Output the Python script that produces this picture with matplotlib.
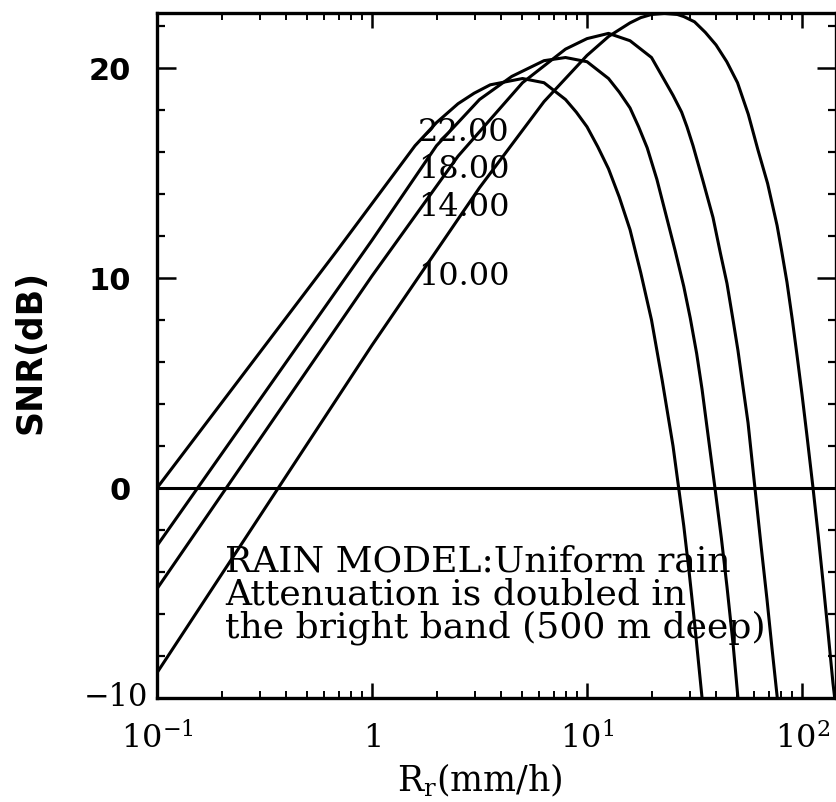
import numpy as np
import matplotlib
matplotlib.use("Agg")
import matplotlib.pyplot as plt
from matplotlib.ticker import FixedLocator, NullFormatter

plt.rcParams["mathtext.fontset"] = "dejavuserif"

# ---------------- data ----------------
curve_labels = ["22.00", "18.00", "14.00", "10.00"]

rain_22 = [0.1, 0.687, 1.585, 1.995, 2.512, 2.985, 3.548, 5.012, 6.310, 7.943, 8.913,
           10.0, 11.22, 12.59, 14.13, 15.85, 17.78, 19.95, 22.39, 25.12, 28.18,
           29.85, 31.62, 34.28]
snr_22 = [0.0, 11.3, 16.3, 17.4, 18.3, 18.8, 19.2, 19.5, 19.3, 18.5, 17.9,
          17.2, 16.25, 15.2, 13.85, 12.3, 10.25, 8.0, 5.1, 2.0, -1.8,
          -4.0, -6.4, -10.0]

rain_18 = [0.1, 1.0, 1.995, 3.162, 4.467, 6.310, 7.943, 10.0, 12.59, 14.13,
           15.85, 17.38, 19.05, 21.13, 23.44, 25.70, 28.18, 30.20, 32.36, 34.28,
           36.14, 39.36, 42.17, 44.77, 47.86, 50.35]
snr_18 = [-2.75, 11.8, 16.3, 18.5, 19.6, 20.35, 20.5, 20.3, 19.5, 18.85,
          18.1, 17.2, 16.2, 14.7, 12.9, 11.3, 9.6, 8.1, 6.4, 4.7,
          2.9, 0.0, -2.4, -4.7, -7.5, -10.0]

rain_14 = [0.1, 1.0, 2.512, 5.012, 7.943, 10.0, 12.59, 15.85, 19.95, 25.12,
           27.54, 29.17, 31.12, 34.67, 38.55, 41.69, 44.77, 47.86, 50.35, 53.09,
           56.10, 60.39, 64.57, 68.71, 72.44, 76.74]
snr_14 = [-4.8, 10.1, 15.8, 19.3, 20.9, 21.4, 21.65, 21.3, 20.5, 18.7,
          17.9, 17.2, 16.3, 14.6, 12.88, 11.2, 9.74, 7.95, 6.55, 4.85,
          3.1, 0.0, -2.8, -5.3, -7.6, -10.0]

rain_10 = [0.1, 1.0, 3.162, 6.310, 10.0, 12.59, 15.85, 17.78, 19.95, 22.91,
           26.30, 28.18, 31.62, 35.48, 39.81, 44.67, 50.12, 56.23, 62.37, 69.18,
           76.56, 80.35, 85.11, 90.16, 94.84, 100.0, 105.4, 112.5, 118.9, 125.3,
           131.8, 139.3, 141.9]
snr_10 = [-8.8, 6.8, 14.3, 18.4, 20.6, 21.5, 22.15, 22.4, 22.55, 22.6,
          22.55, 22.45, 22.2, 21.7, 21.1, 20.3, 19.3, 17.8, 16.1, 14.5,
          12.5, 11.3, 9.8, 8.0, 6.3, 4.45, 2.5, 0.0, -2.25, -4.5,
          -6.75, -9.3, -10.0]

x_major = [0.1, 1, 10, 100]
x_major_labels = [r"$10^{-1}$", r"$1$", r"$10^{1}$", r"$10^{2}$"]
y_major = [-10, 0, 10, 20]
y_major_labels = ["", "0", "10", "20"]
y_bottom_label = "\u221210"

note_text = "RAIN MODEL:Uniform rain\nAttenuation is doubled in\nthe bright band (500 m deep)"
x_label = r"$\mathrm{R_r(mm/h)}$"
y_label = "SNR(dB)"

# ---------------- figure ----------------
W, H = 836, 802
fig = plt.figure(figsize=(W / 100, H / 100), dpi=100)
ax = fig.add_axes([157 / W, 104 / H, 679 / W, 685 / H])
ax.set_xscale("log")
ax.set_xlim(0.1, 10 ** 2.158)
ax.set_ylim(-10, 22.62)

lw = 2.2
for r, s in [(rain_22, snr_22), (rain_18, snr_18), (rain_14, snr_14), (rain_10, snr_10)]:
    ax.plot(r, s, color="black", lw=lw, solid_capstyle="round", solid_joinstyle="round")

ax.axhline(0, color="black", lw=2.2)

# curve labels
label_y = [16.95, 15.15, 13.35, 10.07]
for txt, yy in zip(curve_labels, label_y):
    ax.text(1.64, yy, txt, fontsize=23, family="DejaVu Serif", ha="left", va="center")

ax.text(0.207, -2.7, note_text, fontsize=26, family="DejaVu Serif",
        ha="left", va="top", linespacing=0.95)

# spines / ticks
for sp in ax.spines.values():
    sp.set_linewidth(2.4)

ax.xaxis.set_major_locator(FixedLocator(x_major))
ax.xaxis.set_minor_locator(FixedLocator(
    [m * 10.0 ** e for e in (-1, 0, 1, 2) for m in range(2, 10)]))
ax.xaxis.set_minor_formatter(NullFormatter())
ax.set_xticklabels(x_major_labels)

ax.yaxis.set_major_locator(FixedLocator(y_major))
ax.yaxis.set_minor_locator(FixedLocator(np.arange(-10, 23, 2)))
ax.set_yticklabels(y_major_labels)

ax.tick_params(which="both", direction="in", top=True, right=True, color="black")
ax.tick_params(axis="x", which="major", length=11, width=1.8, pad=18, labelsize=23)
ax.tick_params(axis="x", which="minor", length=5, width=1.4)
ax.tick_params(axis="y", which="major", length=14, width=1.8, pad=19, labelsize=22)
ax.tick_params(axis="y", which="minor", length=5.5, width=1.6)
for lab in ax.get_xticklabels():
    lab.set_family("DejaVu Serif")
for lab in ax.get_yticklabels():
    lab.set_family("DejaVu Sans")
    lab.set_fontweight("bold")

ax.text(-0.013, -10, y_bottom_label, transform=ax.get_yaxis_transform(),
        ha="right", va="center", fontsize=22, family="DejaVu Serif")

ax.set_xlabel(x_label, fontsize=25)
ax.xaxis.set_label_coords((480 - 157) / 679, -0.093)
ax.set_ylabel(y_label, fontsize=25, fontweight="bold", family="DejaVu Sans")
ax.yaxis.label.set_va("center")
ax.yaxis.set_label_coords((30 - 157) / 679, (698 - 352) / 685)

fig.savefig("out.png", dpi=100)
